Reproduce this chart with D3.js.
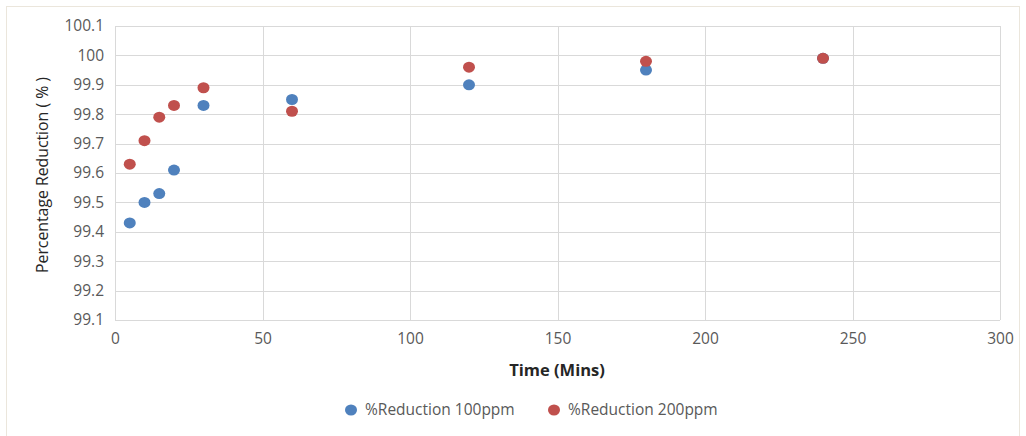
<!DOCTYPE html>
<html>
<head>
<meta charset="utf-8">
<script src="https://cdn.jsdelivr.net/npm/d3@7"></script>
<style>
  body { margin:0; background:#fff; }
  text { font-family:"Open Sans", sans-serif; }
</style>
</head>
<body>
<div class="chart"></div>
<script>
// data
var times = [5, 10, 15, 20, 30, 60, 120, 180, 240];
var red100 = [99.43, 99.50, 99.53, 99.61, 99.83, 99.85, 99.90, 99.95, 99.99];
var red200 = [99.63, 99.71, 99.79, 99.83, 99.89, 99.81, 99.96, 99.98, 99.99];
var seriesNames = ["%Reduction 100ppm", "%Reduction 200ppm"];
var seriesColors = ["#4f81bd", "#c0504d"];
var xTicks = [0, 50, 100, 150, 200, 250, 300];
var yTicks = [99.1, 99.2, 99.3, 99.4, 99.5, 99.6, 99.7, 99.8, 99.9, 100, 100.1];

var W = 1026, H = 436;
var plot = {left:115, right:1000, top:26, bottom:320};

var svg = d3.select(".chart").append("svg")
  .attr("width", W).attr("height", H);

svg.append("rect")
  .attr("x", 6.5).attr("y", 6.5)
  .attr("width", 1013).attr("height", 440)
  .attr("fill", "#fff").attr("stroke", "#ebe6dc");

var x = d3.scaleLinear().domain([0, 300]).range([plot.left, plot.right]);
var y = d3.scaleLinear().domain([99.1, 100.1]).range([plot.bottom, plot.top]);

// gridlines
svg.append("g").selectAll("line").data(yTicks).enter().append("line")
  .attr("x1", plot.left).attr("x2", plot.right)
  .attr("y1", function(d){ return Math.round(y(d)) + 0.5; })
  .attr("y2", function(d){ return Math.round(y(d)) + 0.5; })
  .attr("stroke", "#d9d9d9");
svg.append("g").selectAll("line").data(xTicks).enter().append("line")
  .attr("y1", plot.top).attr("y2", plot.bottom)
  .attr("x1", function(d){ return Math.round(x(d)) + 0.5; })
  .attr("x2", function(d){ return Math.round(x(d)) + 0.5; })
  .attr("stroke", "#d9d9d9");

// axes (labels only, lines drawn by grid)
var xAxis = svg.append("g")
  .attr("transform", "translate(0," + plot.bottom + ")")
  .call(d3.axisBottom(x).tickValues(xTicks).tickSize(0).tickPadding(13).tickFormat(d3.format("d")));
var yAxis = svg.append("g")
  .attr("transform", "translate(" + plot.left + ",0)")
  .call(d3.axisLeft(y).tickValues(yTicks).tickSize(0).tickPadding(11).tickFormat(function(d){ return +d.toFixed(1); }));
[xAxis, yAxis].forEach(function(a){
  a.select(".domain").remove();
  a.selectAll("text").attr("fill", "#595959").style("font-size", "15.5px").style("font-family", "'Open Sans', sans-serif");
});

// titles
svg.append("text")
  .attr("x", 557).attr("y", 376)
  .attr("text-anchor", "middle")
  .style("font-size", "16.5px").style("font-weight", "bold")
  .attr("fill", "#262626")
  .text("Time (Mins)");
svg.append("text")
  .attr("transform", "translate(48," + 175 + ") rotate(-90)")
  .attr("text-anchor", "middle")
  .style("font-size", "15.8px")
  .attr("fill", "#262626")
  .text("Percentage Reduction ( % )");

// points
[red100, red200].forEach(function(vals, i){
  svg.append("g").selectAll("ellipse").data(vals).enter().append("ellipse")
    .attr("cx", function(d, j){ return x(times[j]); })
    .attr("cy", function(d){ return y(d); })
    .attr("rx", 6).attr("ry", 5.5)
    .attr("fill", seriesColors[i]);
});

// legend
var legendX = [351, 554];
seriesNames.forEach(function(name, i){
  var g = svg.append("g").attr("transform", "translate(" + legendX[i] + ",410)");
  g.append("ellipse").attr("rx", 6).attr("ry", 5.5).attr("fill", seriesColors[i]);
  g.append("text").attr("x", 14).attr("dy", "0.35em")
    .style("font-size", "15.5px").attr("fill", "#595959").text(name);
});
</script>
</body>
</html>
